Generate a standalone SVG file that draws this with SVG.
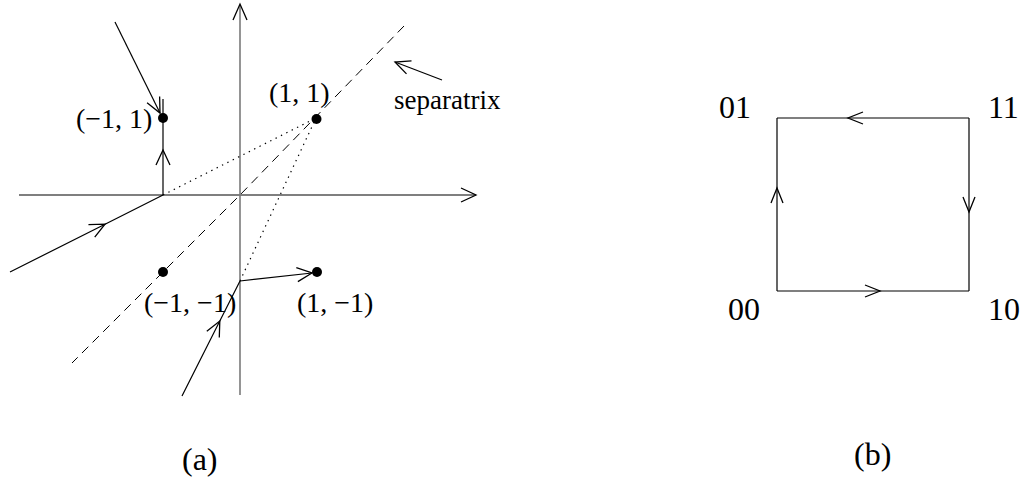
<svg xmlns="http://www.w3.org/2000/svg" width="1026" height="479" viewBox="0 0 1026 479">
<style>
.ln{fill:none;stroke:#000;stroke-width:1.2}
.ax{fill:none;stroke:#000;stroke-width:1.2}
.vax{fill:none;stroke:#7a7a7a;stroke-width:1.6}
.dash{fill:none;stroke:#000;stroke-width:1;stroke-dasharray:9 6}
.dot{fill:none;stroke:#000;stroke-width:1.2;stroke-dasharray:1.4 4.6}
.pt{fill:#000}
.lbl{font-family:"Liberation Serif","Times New Roman",serif;font-size:28px;fill:#000}
.sep{font-family:"Liberation Serif","Times New Roman",serif;font-size:27px;fill:#000}
.big{font-family:"Liberation Serif","Times New Roman",serif;font-size:32px;fill:#000}
</style>
<defs>
<marker id="ah" markerUnits="userSpaceOnUse" markerWidth="20" markerHeight="20" refX="0" refY="0" orient="auto" overflow="visible">
<path d="M-15,-7 L0,0 L-15,7" fill="none" stroke="#000" stroke-width="1.3"/>
</marker>
<marker id="ah2" markerUnits="userSpaceOnUse" markerWidth="20" markerHeight="20" refX="0" refY="0" orient="auto" overflow="visible">
<path d="M-15,-6 L0,0 L-15,6" fill="none" stroke="#000" stroke-width="1.3"/>
</marker>
</defs>
<rect width="1026" height="479" fill="#fff"/>

<g id="axes">
<line class="ax" x1="19" y1="195" x2="476" y2="195" marker-end="url(#ah)"/>
<line class="vax" x1="240" y1="395" x2="240" y2="5"/>
<path d="M233,20 L240,4 L247,20" fill="none" stroke="#000" stroke-width="1.3"/>
</g>

<g id="connectors">
<polyline class="dash" points="404,26 240,195 72,363"/>
<line class="dot" x1="163" y1="195" x2="316" y2="118"/>
<line class="dot" x1="240" y1="281" x2="316" y2="118"/>
<line class="ln" x1="115" y1="22" x2="160" y2="113" marker-end="url(#ah)"/>
<polyline class="ln" points="163,195 163,150 163,99" marker-mid="url(#ah)"/>
<polyline class="ln" points="10,272 105,224.2 163,195" marker-mid="url(#ah)"/>
<polyline class="ln" points="182,396 219.8,321 240,281" marker-mid="url(#ah)"/>
<line class="ln" x1="240" y1="281" x2="312" y2="273" marker-end="url(#ah)"/>
<line class="ln" x1="442" y1="80" x2="395" y2="62" marker-end="url(#ah)"/>
<polyline class="ln" points="777,291 880,291 969,291" marker-mid="url(#ah2)"/>
<polyline class="ln" points="969,118 969,212 969,291" marker-mid="url(#ah2)"/>
<polyline class="ln" points="969,118 848,118 777,118" marker-mid="url(#ah2)"/>
<polyline class="ln" points="777,291 777,188 777,118" marker-mid="url(#ah2)"/>
</g>

<g id="node-m1p1">
<circle class="pt" cx="163" cy="118" r="5"/>
<text class="lbl" x="76" y="128">(−1, 1)</text>
</g>
<g id="node-p1p1">
<circle class="pt" cx="316.5" cy="119" r="5"/>
<text class="lbl" x="269" y="102">(1, 1)</text>
</g>
<g id="node-m1m1">
<circle class="pt" cx="163" cy="272" r="5"/>
<text class="lbl" x="144" y="312">(−1, −1)</text>
</g>
<g id="node-p1m1">
<circle class="pt" cx="317" cy="272" r="5"/>
<text class="lbl" x="297" y="312">(1, −1)</text>
</g>
<g id="label-separatrix">
<text class="sep" x="394" y="109">separatrix</text>
</g>
<g id="caption-a"><text class="big" x="182" y="470">(a)</text></g>

<g id="node-01"><text class="big" x="719" y="118">01</text></g>
<g id="node-11"><text class="big" x="988" y="118">11</text></g>
<g id="node-00"><text class="big" x="728" y="320">00</text></g>
<g id="node-10"><text class="big" x="988" y="320">10</text></g>
<g id="caption-b"><text class="big" x="854" y="465">(b)</text></g>
</svg>
